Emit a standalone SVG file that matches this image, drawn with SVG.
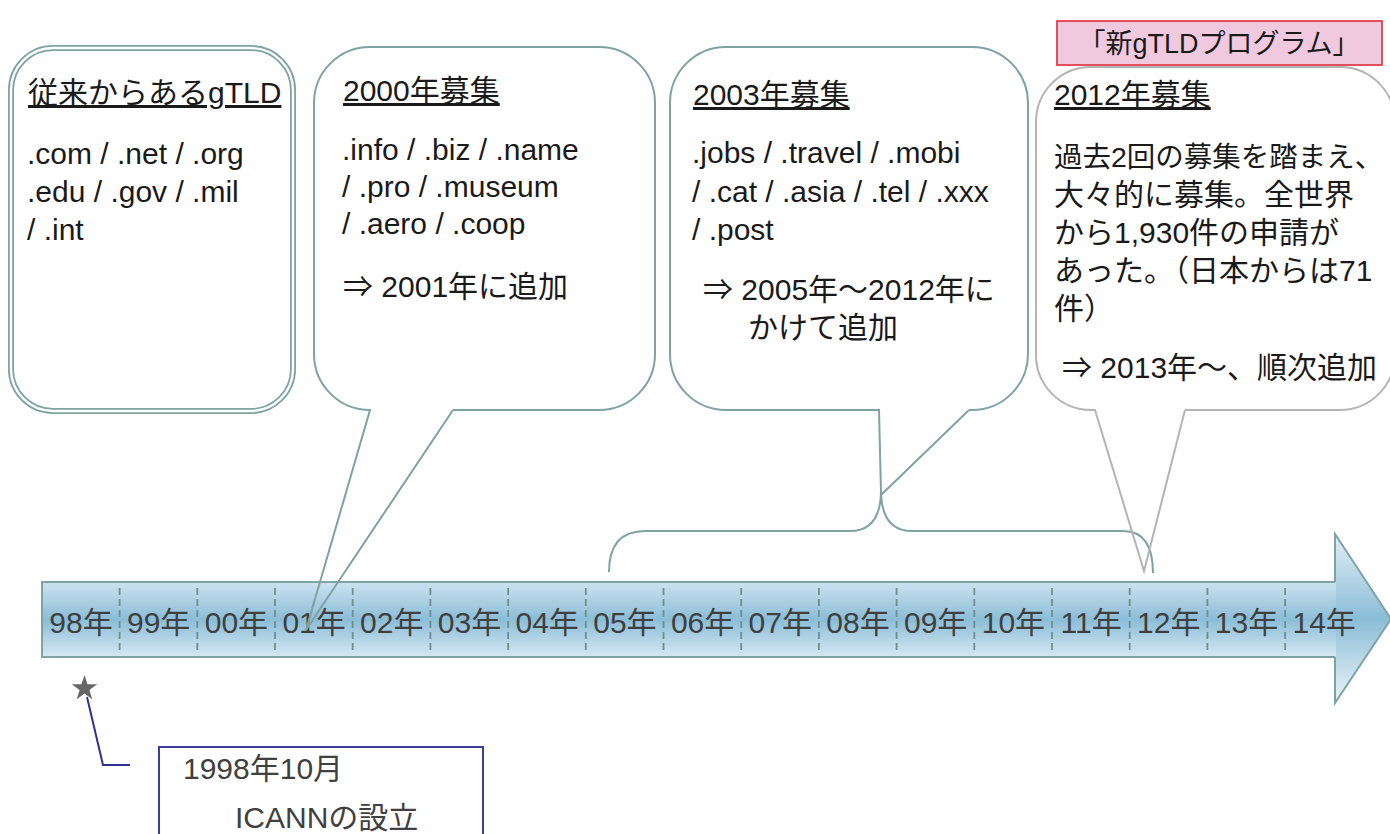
<svg xmlns="http://www.w3.org/2000/svg" width="1390" height="834" viewBox="0 0 1390 834">
<style>
  text { font-family: "Liberation Sans", "Noto Sans CJK JP", sans-serif; }
  .body { font-size: 30px; fill: #1a1a1a; }
  .head { font-size: 30px; fill: #1a1a1a; text-decoration: underline; }
  .year { font-size: 30px; fill: #3f3f3f; text-anchor: middle; }
  .gray { font-size: 30px; fill: #404040; }
  .teal { fill: none; stroke: #7fa2a3; stroke-width: 2; }
  .grey { fill: none; stroke: #b4b4b4; stroke-width: 2; }
  .div { stroke: #6f9090; stroke-width: 1.8; stroke-dasharray: 7 4; }
</style>
<defs>
  <linearGradient id="bar" gradientUnits="userSpaceOnUse" x1="0" y1="582" x2="0" y2="657">
    <stop offset="0" stop-color="#cde3ef"/>
    <stop offset="0.5" stop-color="#8bbdd7"/>
    <stop offset="1" stop-color="#d6e9f3"/>
  </linearGradient>
  <linearGradient id="head" gradientUnits="userSpaceOnUse" x1="0" y1="534" x2="0" y2="703">
    <stop offset="0" stop-color="#e2eff6"/>
    <stop offset="0.5" stop-color="#8bbdd7"/>
    <stop offset="1" stop-color="#eaf4f8"/>
  </linearGradient>
</defs>

<g id="timeline">
  <path d="M1335,582 L1335,534 L1391,619 L1335,703 L1335,657 Z" fill="url(#head)" stroke="#7fa2a3" stroke-width="2"/>
  <rect x="42" y="582" width="1294" height="75" fill="url(#bar)"/>
  <path d="M1335,582 H42 V657 H1335" fill="none" stroke="#7fa2a3" stroke-width="2"/>
  <g>
    <line class="div" x1="119.6" y1="588" x2="119.6" y2="653"/>
    <line class="div" x1="197.3" y1="588" x2="197.3" y2="653"/>
    <line class="div" x1="275" y1="588" x2="275" y2="653"/>
    <line class="div" x1="352.7" y1="588" x2="352.7" y2="653"/>
    <line class="div" x1="430.4" y1="588" x2="430.4" y2="653"/>
    <line class="div" x1="508.1" y1="588" x2="508.1" y2="653"/>
    <line class="div" x1="585.8" y1="588" x2="585.8" y2="653"/>
    <line class="div" x1="663.5" y1="588" x2="663.5" y2="653"/>
    <line class="div" x1="741.2" y1="588" x2="741.2" y2="653"/>
    <line class="div" x1="818.9" y1="588" x2="818.9" y2="653"/>
    <line class="div" x1="896.6" y1="588" x2="896.6" y2="653"/>
    <line class="div" x1="974.3" y1="588" x2="974.3" y2="653"/>
    <line class="div" x1="1052" y1="588" x2="1052" y2="653"/>
    <line class="div" x1="1129.7" y1="588" x2="1129.7" y2="653"/>
    <line class="div" x1="1207.4" y1="588" x2="1207.4" y2="653"/>
    <line class="div" x1="1285.1" y1="588" x2="1285.1" y2="653"/>
  </g>
  <g>
    <text class="year" x="81" y="633">98年</text>
    <text class="year" x="158.7" y="633">99年</text>
    <text class="year" x="236.4" y="633">00年</text>
    <text class="year" x="314.1" y="633">01年</text>
    <text class="year" x="391.8" y="633">02年</text>
    <text class="year" x="469.5" y="633">03年</text>
    <text class="year" x="547.2" y="633">04年</text>
    <text class="year" x="624.9" y="633">05年</text>
    <text class="year" x="702.6" y="633">06年</text>
    <text class="year" x="780.3" y="633">07年</text>
    <text class="year" x="858" y="633">08年</text>
    <text class="year" x="935.7" y="633">09年</text>
    <text class="year" x="1013.4" y="633">10年</text>
    <text class="year" x="1091.1" y="633">11年</text>
    <text class="year" x="1168.8" y="633">12年</text>
    <text class="year" x="1246.5" y="633">13年</text>
    <text class="year" x="1324.2" y="633">14年</text>
  </g>
</g>

<g id="box-legacy">
  <rect x="11" y="48" width="282" height="363" rx="42" fill="#ffffff" stroke="#7fa2a3" stroke-width="6"/>
  <rect x="11" y="48" width="282" height="363" rx="42" fill="none" stroke="#ffffff" stroke-width="2.4"/>
  <text class="head" x="28" y="103">従来からあるgTLD</text>
  <text class="body" x="27" y="164">.com / .net / .org</text>
  <text class="body" x="27" y="202">.edu / .gov / .mil</text>
  <text class="body" x="27" y="240">/ .int</text>
</g>

<g id="box-2000">
  <rect x="314" y="47" width="341" height="363" rx="56" fill="#ffffff"/>
  <path class="teal" d="M453,410 H599 A56,56 0 0 0 655,354 V103 A56,56 0 0 0 599,47 H370 A56,56 0 0 0 314,103 V354 A56,56 0 0 0 370,410 L306,630 L453,410"/>
  <text class="head" x="343" y="101">2000年募集</text>
  <text class="body" x="342" y="160">.info / .biz / .name</text>
  <text class="body" x="342" y="197">/ .pro / .museum</text>
  <text class="body" x="342" y="234">/ .aero / .coop</text>
  <text class="body" x="343" y="297">⇒ 2001年に追加</text>
</g>

<g id="box-2003">
  <rect x="670" y="47" width="358" height="363" rx="56" fill="#ffffff"/>
  <path class="teal" d="M969,410 H972 A56,56 0 0 0 1028,354 V103 A56,56 0 0 0 972,47 H726 A56,56 0 0 0 670,103 V354 A56,56 0 0 0 726,410 H879 L881,492 M969,410 L881,495"/>
  <path class="teal" d="M609,572 Q609,531 645,531 H850 Q881,531 881,490 Q881,531 912,531 H1123 Q1153,531 1153,573"/>
  <text class="head" x="693" y="105">2003年募集</text>
  <text class="body" x="692" y="163">.jobs / .travel / .mobi</text>
  <text class="body" x="692" y="202">/ .cat / .asia / .tel / .xxx</text>
  <text class="body" x="692" y="240">/ .post</text>
  <text class="body" x="703" y="300">⇒ 2005年～2012年に</text>
  <text class="body" x="748" y="338">かけて追加</text>
</g>

<g id="box-2012">
  <rect x="1036" y="67" width="360" height="343" rx="55" fill="#ffffff"/>
  <path class="grey" d="M1185,410 H1340 A55,55 0 0 0 1395,355 V122 A55,55 0 0 0 1340,67 H1091 A55,55 0 0 0 1036,122 V355 A55,55 0 0 0 1091,410 H1095 L1144,571 L1185,410"/>
  <text class="head" x="1054" y="105">2012年募集</text>
  <text class="body" x="1054" y="167" style="font-size:28.5px">過去2回の募集を踏まえ、</text>
  <text class="body" x="1054" y="205">大々的に募集。全世界</text>
  <text class="body" x="1054" y="243">から1,930件の申請が</text>
  <text class="body" x="1054" y="281">あった。（日本からは71</text>
  <text class="body" x="1054" y="319">件）</text>
  <text class="body" x="1062" y="378">⇒ 2013年～、順次追加</text>
</g>

<g id="label-new-gtld">
  <rect x="1057" y="21" width="325" height="44" fill="#f0c9de" stroke="#e2404a" stroke-width="1.8"/>
  <text x="1219" y="53" font-size="27" fill="#1a1a1a" text-anchor="middle">「新gTLDプログラム」</text>
</g>

<g id="star">
  <polygon points="84.5,675 87.5,684.2 97.2,684.2 89.4,689.9 92.3,699.2 84.5,693.5 76.7,699.2 79.6,689.9 71.8,684.2 81.5,684.2" fill="#666666"/>
</g>

<g id="connectors">
  <polyline points="87,697 103,765 130,765" fill="none" stroke="#2e3192" stroke-width="2"/>
</g>

<g id="box-icann">
  <rect x="159" y="747" width="324" height="100" fill="#ffffff" stroke="#3a3f9a" stroke-width="2"/>
  <text class="gray" x="183" y="779">1998年10月</text>
  <text class="gray" x="235" y="828">ICANNの設立</text>
</g>
</svg>
